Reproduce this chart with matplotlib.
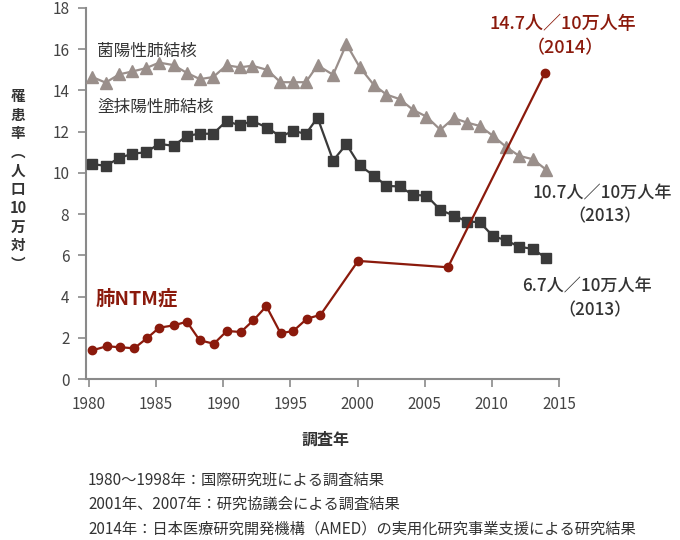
import matplotlib
matplotlib.use("Agg")
import matplotlib.pyplot as plt

plt.rcParams['font.family'] = ['Noto Sans CJK JP', 'DejaVu Sans']

# x positions (years) as they sit on the chart
years_tb = [1980.25, 1981.24, 1982.25, 1983.22, 1984.24, 1985.23, 1986.3, 1987.29, 1988.26,
            1989.25, 1990.25, 1991.24, 1992.15, 1993.27, 1994.26, 1995.23, 1996.15, 1997.02,
            1998.18, 1999.17, 2000.16, 2001.21, 2002.15, 2003.14, 2004.13, 2005.13, 2006.17,
            2007.16, 2008.15, 2009.09, 2010.08, 2011.08, 2012.02, 2013.06, 2014.05]

# 菌陽性肺結核
culture_pos = [14.65, 14.38, 14.78, 14.92, 15.08, 15.35, 15.23, 14.85, 14.55,
               14.65, 15.22, 15.12, 15.2, 15.0, 14.4, 14.4, 14.4, 15.22,
               14.76, 16.25, 15.13, 14.27, 13.8, 13.58, 13.06, 12.73, 12.09,
               12.66, 12.44, 12.28, 11.8, 11.25, 10.83, 10.66, 10.15]

# 塗抹陽性肺結核
smear_pos = [10.43, 10.34, 10.72, 10.93, 11.0, 11.41, 11.31, 11.8, 11.9,
             11.9, 12.52, 12.3, 12.52, 12.2, 11.76, 12.04, 11.89, 12.68,
             10.6, 11.39, 10.36, 9.87, 9.37, 9.34, 8.93, 8.9, 8.2,
             7.93, 7.64, 7.61, 6.94, 6.72, 6.42, 6.31, 5.86]

# 肺NTM症
years_ntm = [1980.25, 1981.32, 1982.31, 1983.37, 1984.34, 1985.23, 1986.3, 1987.29, 1988.24,
             1989.3, 1990.27, 1991.31, 1992.25, 1993.21, 1994.27, 1995.22, 1996.24, 1997.24,
             2000.04, 2006.73, 2013.95]
ntm = [1.39, 1.59, 1.54, 1.49, 1.99, 2.49, 2.6, 2.78, 1.88,
       1.71, 2.33, 2.28, 2.85, 3.53, 2.22, 2.33, 2.93, 3.11,
       5.73, 5.42, 14.85]

x_ticks = [1980, 1985, 1990, 1995, 2000, 2005, 2010, 2015]
y_ticks = [0, 2, 4, 6, 8, 10, 12, 14, 16, 18]

red = '#8b1a0c'
gray = '#9a8f8b'
dark = '#3a3a3a'
text_c = '#333333'
axis_c = '#8a8a8a'

fig = plt.figure(figsize=(6.8, 5.4), dpi=100)
ax = fig.add_axes([86 / 680, 161 / 540, 473 / 680, 371 / 540])

ax.plot(years_tb, culture_pos, color=gray, lw=1.6, marker='^', markersize=8.5, zorder=3)
ax.plot(years_tb, smear_pos, color=dark, lw=1.6, marker='s', markersize=7.5, zorder=3)
ax.plot(years_ntm, ntm, color=red, lw=1.6, marker='o', markersize=6, zorder=4)

ax.set_xlim(1979.78, 2015)
ax.set_ylim(0, 18)
ax.set_xticks(x_ticks)
ax.set_yticks(y_ticks)
for s in ['top', 'right']:
    ax.spines[s].set_visible(False)
for s in ['left', 'bottom']:
    ax.spines[s].set_color(axis_c)
    ax.spines[s].set_linewidth(1.5)
ax.tick_params(direction='out', length=6, width=1.2, color=axis_c,
               labelsize=11, labelcolor='#444444', pad=6)

# series labels
ax.text(1980.6, 15.9, '菌陽性肺結核', fontsize=12, color=text_c, va='center', ha='left')
ax.text(1980.6, 13.2, '塗抹陽性肺結核', fontsize=12, color=text_c, va='center', ha='left')
ax.text(1980.5, 3.9, '肺NTM症', fontsize=14, color=red, va='center', ha='left', fontweight='bold')

# end-value notes
ax.text(2015.3, 17.2, '14.7人／10万人年', fontsize=13, color=red, ha='center', va='center',
        fontweight='medium', clip_on=False)
ax.text(2015.5, 16.07, '（2014）', fontsize=13, color=red, ha='center', va='center',
        fontweight='medium', clip_on=False)
ax.text(2018.2, 9.0, '10.7人／10万人年', fontsize=12.3, color=text_c, ha='center', va='center',
        fontweight='medium', clip_on=False)
ax.text(2018.4, 7.9, '（2013）', fontsize=12.3, color=text_c, ha='center', va='center',
        fontweight='medium', clip_on=False)
ax.text(2017.1, 4.5, '6.7人／10万人年', fontsize=12.3, color=text_c, ha='center', va='center',
        fontweight='medium', clip_on=False)
ax.text(2017.7, 3.35, '（2013）', fontsize=12.3, color=text_c, ha='center', va='center',
        fontweight='medium', clip_on=False)

# axis titles
fig.text(325 / 680, 1 - 440 / 540, '調査年', fontsize=11.5, color=text_c, ha='center', va='center',
         fontweight='bold')
fig.text(18 / 680, 1 - 180 / 540, '罹\n患\n率\n︵\n人\n口\n10\n万\n対\n︶', fontsize=10.5,
         color=text_c, ha='center', va='center', fontweight='bold', linespacing=1.2)

# notes
notes = ['1980〜1998年：国際研究班による調査結果',
         '2001年、2007年：研究協議会による調査結果',
         '2014年：日本医療研究開発機構（AMED）の実用化研究事業支援による研究結果']
for i, n in enumerate(notes):
    fig.text(88 / 680, 1 - (480 + i * 24.5) / 540, n, fontsize=11, color=text_c,
             ha='left', va='center')

fig.savefig('out.png', dpi=100)
